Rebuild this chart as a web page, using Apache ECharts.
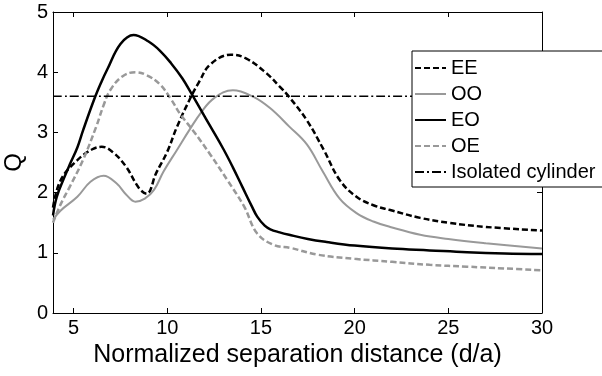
<!DOCTYPE html>
<html>
<head>
<meta charset="utf-8">
<script src="https://cdn.jsdelivr.net/npm/echarts@6/dist/echarts.min.js"></script>
<style>html,body{margin:0;padding:0;background:#fff;}#c{width:602px;height:376px;}</style>
</head>
<body>
<div id="c"></div>
<script>
// Data
var xTicks = [5, 10, 15, 20, 25, 30];
var xEE = [3.9, 4.3, 5.2, 6.0, 6.5, 7.1, 7.8, 8.5, 8.9, 9.4, 10.0, 10.5, 11.2, 11.7, 12.3, 13.4, 14.2, 15.3, 16.0, 16.5, 17.45, 18.35, 19.2, 20.1, 21.0, 21.9, 23.5, 25.0, 27.0, 30.0];
var yEE = [1.75, 2.2, 2.54, 2.72, 2.76, 2.67, 2.43, 2.07, 1.98, 2.32, 2.68, 3.08, 3.55, 3.84, 4.13, 4.29, 4.23, 3.98, 3.76, 3.59, 3.2, 2.71, 2.21, 1.93, 1.79, 1.71, 1.58, 1.5, 1.43, 1.37];
var xOO = [3.9, 4.3, 5.2, 5.9, 6.6, 7.3, 7.8, 8.3, 8.8, 9.3, 9.8, 10.5, 11.2, 11.8, 12.5, 13.5, 14.6, 15.5, 16.5, 17.45, 18.3, 19.2, 20.1, 21.0, 21.9, 23.5, 25.0, 27.0, 30.0];
var yOO = [1.55, 1.7, 1.93, 2.18, 2.28, 2.15, 1.97, 1.85, 1.9, 2.05, 2.35, 2.7, 3.05, 3.33, 3.57, 3.7, 3.59, 3.4, 3.1, 2.8, 2.35, 1.9, 1.66, 1.52, 1.43, 1.3, 1.23, 1.16, 1.07];
var xEO = [3.9, 4.1, 4.5, 4.8, 5.2, 5.5, 6.1, 6.5, 6.8, 7.5, 8.2, 9.0, 9.6, 10.2, 10.8, 11.3, 11.8, 12.3, 13.0, 13.5, 14.0, 14.5, 14.8, 15.2, 15.5, 16.0, 16.5, 17.5, 18.5, 20.0, 22.0, 24.0, 26.0, 28.0, 30.0];
var yEO = [1.62, 1.93, 2.25, 2.47, 2.75, 3.03, 3.55, 3.85, 4.05, 4.47, 4.62, 4.51, 4.36, 4.15, 3.9, 3.64, 3.37, 3.1, 2.72, 2.42, 2.1, 1.78, 1.6, 1.45, 1.39, 1.34, 1.3, 1.23, 1.18, 1.12, 1.07, 1.04, 1.01, 0.99, 0.98];
var xOE = [3.9, 4.3, 4.8, 5.5, 6.2, 6.6, 6.95, 7.6, 8.3, 8.9, 9.6, 10.2, 10.7, 11.4, 12.3, 13.2, 14.1, 14.8, 15.7, 16.6, 18.0, 20.0, 22.0, 24.0, 26.0, 28.0, 30.0];
var yOE = [1.5, 1.8, 2.1, 2.54, 3.09, 3.45, 3.7, 3.93, 4.0, 3.95, 3.8, 3.55, 3.3, 3.02, 2.63, 2.21, 1.77, 1.32, 1.13, 1.08, 0.97, 0.9, 0.85, 0.8, 0.77, 0.74, 0.71];
var xIso = [3.9, 30];
var yIso = [3.6, 3.6];
var names = ['EE', 'OO', 'EO', 'OE', 'Isolated cylinder'];

function pairs(xs, ys) { return xs.map(function (x, i) { return [x, ys[i]]; }); }

var FONT = "'Liberation Sans', Arial, sans-serif";
var chart = echarts.init(document.getElementById('c'), null, { renderer: 'canvas' });
var axisLine = { show: true, onZero: false, lineStyle: { color: '#000', width: 1 } };
function lineSeries(name, xs, ys, style) {
  return { name: name, type: 'line', data: pairs(xs, ys), smooth: 0.4,
    showSymbol: false, symbol: 'none', lineStyle: style, itemStyle: { color: style.color } };
}
chart.setOption({
  animation: false,
  backgroundColor: '#fff',
  grid: { left: 53, right: 60, top: 12, bottom: 63, containLabel: false, outerBoundsMode: 'none' },
  xAxis: [{
    type: 'value', min: 3.9, max: 30, position: 'bottom',
    axisLine: axisLine,
    axisTick: { show: true, inside: true, length: 5, customValues: xTicks, lineStyle: { color: '#000' } },
    axisLabel: { customValues: xTicks, color: '#000', fontSize: 20, fontFamily: FONT, margin: 5 },
    splitLine: { show: false },
    name: 'Normalized separation distance (d/a)', nameLocation: 'middle', nameGap: 26,
    nameTextStyle: { color: '#000', fontSize: 25, fontFamily: FONT }
  }, {
    type: 'value', min: 3.9, max: 30, position: 'top',
    axisLine: axisLine,
    axisTick: { show: true, inside: true, length: 5, customValues: xTicks, lineStyle: { color: '#000' } },
    axisLabel: { show: false }, splitLine: { show: false }
  }],
  yAxis: [{
    type: 'value', min: 0, max: 5, interval: 1, position: 'left',
    axisLine: axisLine,
    axisTick: { show: true, inside: true, length: 5, lineStyle: { color: '#000' } },
    axisLabel: { color: '#000', fontSize: 20, fontFamily: FONT, margin: 5 },
    splitLine: { show: false },
    name: 'Q', nameLocation: 'middle', nameGap: 27,
    nameTextStyle: { color: '#000', fontSize: 24, fontFamily: FONT }
  }, {
    type: 'value', min: 0, max: 5, interval: 1, position: 'right',
    axisLine: axisLine,
    axisTick: { show: true, inside: true, length: 5, lineStyle: { color: '#000' } },
    axisLabel: { show: false }, splitLine: { show: false }
  }],
  legend: {
    data: names, orient: 'vertical', left: 412, top: 51,
    backgroundColor: '#fff', borderColor: '#000', borderWidth: 1, borderRadius: 0,
    padding: [7, 60, 5, 2], itemGap: 6, itemWidth: 31, itemHeight: 14,
    itemStyle: { opacity: 0 },
    textStyle: { color: '#000', fontSize: 20, fontFamily: FONT, lineHeight: 20 }
  },
  series: [
    lineSeries('EE', xEE, yEE, { color: '#000', width: 2.5, type: [6, 3] }),
    lineSeries('OO', xOO, yOO, { color: '#999', width: 2 }),
    lineSeries('EO', xEO, yEO, { color: '#000', width: 2.5 }),
    lineSeries('OE', xOE, yOE, { color: '#999', width: 2.5, type: [6, 3] }),
    lineSeries('Isolated cylinder', xIso, yIso, { color: '#000', width: 1.5, type: [9, 3, 2, 3] })
  ]
});
</script>
</body>
</html>
